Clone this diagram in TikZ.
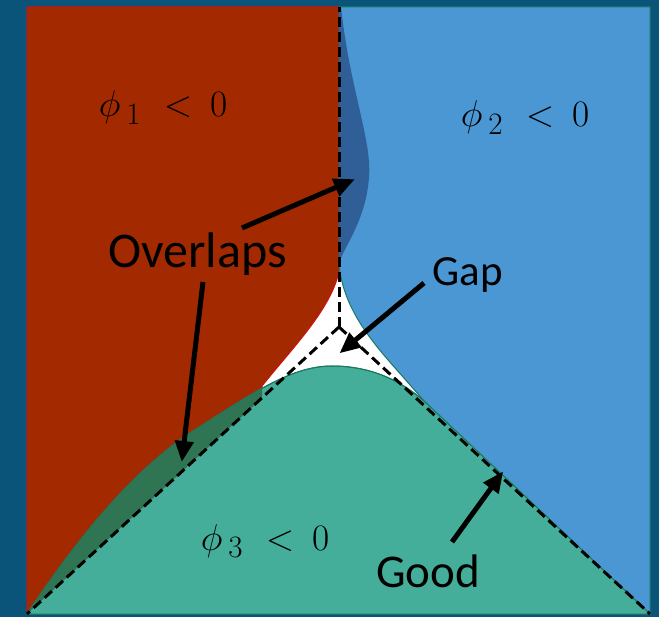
\documentclass[tikz,border=0pt]{standalone}
\usepackage[no-math]{fontspec}
\newfontfamily\lblfont{Carlito}
\usetikzlibrary{arrows.meta}
\definecolor{bgc}{HTML}{0B5479}
\definecolor{redc}{HTML}{A32A00}
\definecolor{redline}{HTML}{D01010}
\definecolor{bluec}{HTML}{4A97D3}
\definecolor{dblue}{HTML}{305E97}
\definecolor{greenc}{HTML}{45AE9B}
\definecolor{dgreen}{HTML}{2F7453}
\definecolor{gline}{HTML}{1B7A5F}
\tikzset{
  region/.style={line width=1pt},
  divider/.style={line width=3pt, dash pattern=on 10pt off 5pt, black},
  pointer/.style={line width=5pt, black, -{Triangle[length=21pt,width=18pt]}, shorten >=-2pt},
  wordlabel/.style={font=\lblfont\fontsize{#1}{#1}\selectfont, inner sep=0pt, anchor=base},
  mathlabel/.style={font=\Huge, inner sep=0pt, anchor=base}
}
\newcommand{\philabel}[1]{\scalebox{1.5}{$\phi_{\kern4pt #1}\kern8pt<\kern5pt 0$}}
\def\redpath{(27,7) -- (339,7) -- (339,272) .. controls (330,310) and (295,345) .. (262,386) -- (262,398) -- (27,614) -- cycle}
\def\greencurve{(27,614) .. controls (62,562) and (120,480) .. (190,433) .. controls (250,395) and (290,366) .. (332,366) .. controls (370,366) and (400,380) .. (424,401)}
\begin{document}
\begin{tikzpicture}[x=1pt,y=-1pt]
\fill[bgc] (0,0) rectangle (659,617);
\useasboundingbox (0,0) rectangle (659,617);
\coordinate (TL) at (27,7);
\coordinate (TM) at (339,7);
\coordinate (TR) at (650,7);
\coordinate (BL) at (27,614);
\coordinate (BR) at (650,614);
\coordinate (J) at (339,327);
\fill[white] (TL) rectangle (BR);
% phi_1 region
\filldraw[region, fill=redc, draw=redline] \redpath;
% phi_2 region
\filldraw[region, fill=bluec, draw=gline] (339,7) -- (650,7) -- (650,614) -- (424,401) .. controls (385,355) and (345,320) .. (339,265) -- cycle;
% overlap phi_1 / phi_2
\fill[dblue] (341,7) .. controls (350,90) and (372,140) .. (369,177) .. controls (366,220) and (345,245) .. (339,263) -- (339,7) -- cycle;
% phi_3 region
\filldraw[region, fill=greenc, draw=gline] \greencurve -- (650,614) -- cycle;
% overlap phi_1 / phi_3
\begin{scope}
  \clip \redpath;
  \fill[dgreen] \greencurve -- (650,614) -- cycle;
\end{scope}
\draw[region, draw=gline] \greencurve;
% dividing lines
\draw[divider] (J) -- (TM);
\draw[divider] (J) -- (BL);
\draw[divider] (J) -- (BR);
% labels
\node[mathlabel] (p1) at (163,117) {\philabel{1}};
\node[mathlabel] (p2) at (525,127) {\philabel{2}};
\node[mathlabel] (p3) at (265,550) {\philabel{3}};
\node[wordlabel=50] (ov) at (197.5,268) {Overlaps};
\node[wordlabel=43] (gap) at (468,286) {Gap};
\node[wordlabel=47] (good) at (428,587) {Good};
% arrows
\coordinate (a1s) at (242,228);
\coordinate (a1e) at (353,180);
\coordinate (a2s) at (203,282);
\coordinate (a2e) at (182,460);
\coordinate (a3s) at (424,283);
\coordinate (a3e) at (341,352);
\coordinate (a4s) at (452,542);
\coordinate (a4e) at (502,473);
\draw[pointer] (a1s) -- (a1e);
\draw[pointer] (a2s) -- (a2e);
\draw[pointer] (a3s) -- (a3e);
\draw[pointer] (a4s) -- (a4e);
\end{tikzpicture}
\end{document}
